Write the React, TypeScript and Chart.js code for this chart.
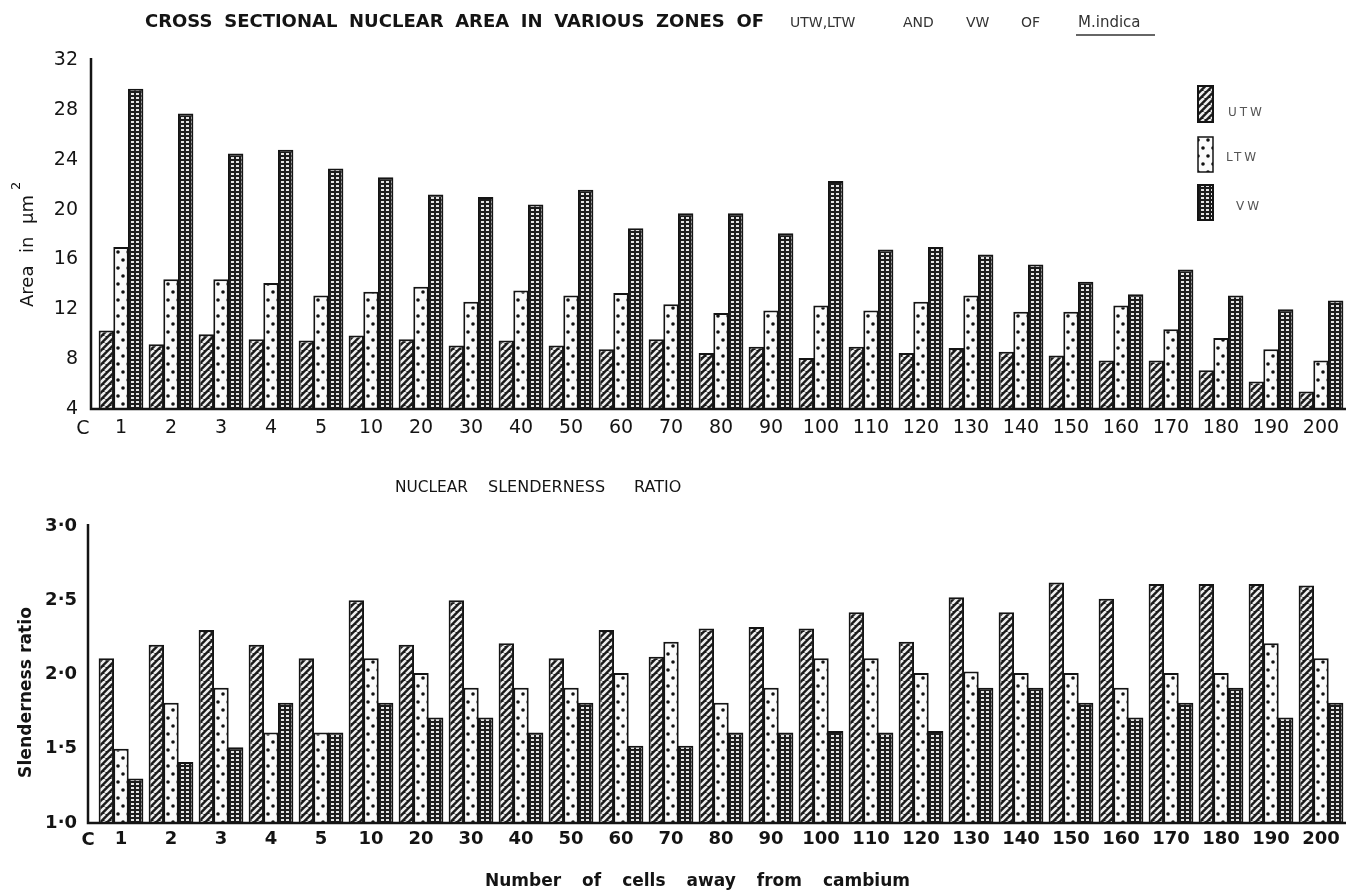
import React, { useEffect, useRef } from "react";
import { Chart, registerables } from "chart.js";
Chart.register(...registerables);

const categories = ["1", "2", "3", "4", "5", "10", "20", "30", "40", "50", "60", "70", "80", "90", "100", "110", "120", "130", "140", "150", "160", "170", "180", "190", "200"];
const seriesNames = ["UTW", "LTW", "VW"];
const areaUTW = [10.3, 9.2, 10.0, 9.6, 9.5, 9.9, 9.6, 9.1, 9.5, 9.1, 8.8, 9.6, 8.5, 9.0, 8.1, 9.0, 8.5, 8.9, 8.6, 8.3, 7.9, 7.9, 7.1, 6.2, 5.4];
const areaLTW = [17.0, 14.4, 14.4, 14.1, 13.1, 13.4, 13.8, 12.6, 13.5, 13.1, 13.3, 12.4, 11.7, 11.9, 12.3, 11.9, 12.6, 13.1, 11.8, 11.8, 12.3, 10.4, 9.7, 8.8, 7.9];
const areaVW = [29.7, 27.7, 24.5, 24.8, 23.3, 22.6, 21.2, 21.0, 20.4, 21.6, 18.5, 19.7, 19.7, 18.1, 22.3, 16.8, 17.0, 16.4, 15.6, 14.2, 13.2, 15.2, 13.1, 12.0, 12.7];
const ratioUTW = [2.11, 2.2, 2.3, 2.2, 2.11, 2.5, 2.2, 2.5, 2.21, 2.11, 2.3, 2.12, 2.31, 2.32, 2.31, 2.42, 2.22, 2.52, 2.42, 2.62, 2.51, 2.61, 2.61, 2.61, 2.6];
const ratioLTW = [1.5, 1.81, 1.91, 1.61, 1.61, 2.11, 2.01, 1.91, 1.91, 1.91, 2.01, 2.22, 1.81, 1.91, 2.11, 2.11, 2.01, 2.02, 2.01, 2.01, 1.91, 2.01, 2.01, 2.21, 2.11];
const ratioVW = [1.3, 1.41, 1.51, 1.81, 1.61, 1.81, 1.71, 1.71, 1.61, 1.81, 1.52, 1.52, 1.61, 1.61, 1.62, 1.61, 1.62, 1.91, 1.91, 1.81, 1.71, 1.81, 1.91, 1.71, 1.81];

const FONT = "'DejaVu Sans', 'Noto Sans', sans-serif";
const INK = "#141414";

function makePattern(kind: string): any {
  const c = document.createElement("canvas");
  const g = c.getContext("2d")!;
  if (kind === "hatch") {
    const s = 7;
    c.width = s; c.height = s;
    g.fillStyle = "#1a1a1a"; g.fillRect(0, 0, s, s);
    g.strokeStyle = "#ececec"; g.lineWidth = 2.6;
    g.beginPath();
    for (let k = -s; k <= s; k += s) { g.moveTo(k, s); g.lineTo(k + s, 0); }
    g.stroke();
  } else if (kind === "dots") {
    c.width = 10; c.height = 16;
    g.fillStyle = "#fbfbfb"; g.fillRect(0, 0, 10, 16);
    g.fillStyle = "#111";
    g.beginPath(); g.arc(3, 4, 1.8, 0, Math.PI * 2); g.fill();
    g.beginPath(); g.arc(8, 12, 1.8, 0, Math.PI * 2); g.fill();
  } else {
    c.width = 5; c.height = 4;
    g.fillStyle = "#1c1c1c"; g.fillRect(0, 0, 5, 4);
    g.fillStyle = "#e4e4e4"; g.fillRect(1, 1, 3, 2);
  }
  return g.createPattern(c, "repeat");
}

function spread(ctx: CanvasRenderingContext2D, text: string, x0: number, x1: number, y: number) {
  const words = text.split(" ");
  const widths = words.map((w) => ctx.measureText(w).width);
  const total = widths.reduce((a, b) => a + b, 0);
  const avail = x1 - x0;
  ctx.textAlign = "left";
  if (words.length === 1 || total >= avail) {
    ctx.fillText(text, x0, y, avail);
    return;
  }
  const gap = (avail - total) / (words.length - 1);
  let x = x0;
  words.forEach((w, i) => { ctx.fillText(w, x, y); x += widths[i] + gap; });
}

export default function App() {
  const topRef = useRef<HTMLCanvasElement>(null);
  const botRef = useRef<HTMLCanvasElement>(null);

  useEffect(() => {
    const pats = [makePattern("hatch"), makePattern("dots"), makePattern("grid")];

    const mkDatasets = (arrs: number[][]) =>
      arrs.map((d, i) => ({
        label: seriesNames[i],
        data: d,
        backgroundColor: pats[i],
        borderColor: INK,
        borderWidth: 2,
        borderSkipped: "bottom" as const,
        categoryPercentage: 0.88,
        barPercentage: 1.05,
      }));

    const topOverlay = {
      id: "topOverlay",
      afterDraw(chart: any) {
        const ctx: CanvasRenderingContext2D = chart.ctx;
        const { left, right, bottom } = chart.chartArea;
        const axX = left - 5;
        ctx.save();
        ctx.strokeStyle = INK; ctx.lineWidth = 2.5;
        ctx.beginPath(); ctx.moveTo(axX, 58); ctx.lineTo(axX, bottom); ctx.lineTo(right, bottom); ctx.stroke();
        ctx.fillStyle = INK; ctx.textBaseline = "middle";
        // title
        ctx.font = `600 18px ${FONT}`;
        spread(ctx, "CROSS SECTIONAL NUCLEAR AREA IN VARIOUS ZONES OF", 145, 764, 22);
        ctx.fillStyle = "#333";
        ctx.font = `14px ${FONT}`;
        const parts: [string, number, number][] = [["UTW,LTW", 790, 886], ["AND", 903, 945], ["VW", 966, 990], ["OF", 1021, 1048]];
        parts.forEach((p) => spread(ctx, p[0], p[1], p[2], 23));
        ctx.font = `15px ${FONT}`;
        ctx.textAlign = "left";
        ctx.fillText("M.indica", 1078, 23, 77);
        ctx.strokeStyle = "#333"; ctx.lineWidth = 1.5;
        ctx.beginPath(); ctx.moveTo(1076, 35); ctx.lineTo(1155, 35); ctx.stroke();
        // y title
        ctx.fillStyle = INK;
        ctx.save();
        ctx.translate(28, 307); ctx.rotate(-Math.PI / 2);
        ctx.font = `18px ${FONT}`;
        spread(ctx, "Area in μm", 0, 112, 0);
        ctx.font = `13px ${FONT}`;
        ctx.fillText("2", 117, -11);
        ctx.restore();
        // origin C
        ctx.font = `19px ${FONT}`; ctx.textAlign = "center";
        ctx.fillText("C", 83, 429);
        // legend
        const lg = [[86, 122, 113, "UTW", 1228], [137, 172, 158, "LTW", 1226], [185, 220, 207, "VW", 1236]];
        lg.forEach((r: any, i) => {
          ctx.fillStyle = pats[i];
          ctx.fillRect(1198, r[0], 15, r[1] - r[0]);
          ctx.strokeStyle = INK; ctx.lineWidth = i === 1 ? 1.5 : 2;
          ctx.strokeRect(1198, r[0], 15, r[1] - r[0]);
          ctx.fillStyle = "#555";
          ctx.font = `12px ${FONT}`;
          ctx.textAlign = "left";
          (ctx as any).letterSpacing = "3px";
          ctx.fillText(r[3], r[4], r[2]);
          (ctx as any).letterSpacing = "0px";
        });
        ctx.restore();
      },
    };

    const botOverlay = {
      id: "botOverlay",
      afterDraw(chart: any) {
        const ctx: CanvasRenderingContext2D = chart.ctx;
        const { right, bottom, top } = chart.chartArea;
        const axX = 88;
        ctx.save();
        ctx.strokeStyle = INK; ctx.lineWidth = 2.5;
        ctx.beginPath(); ctx.moveTo(axX, top - 2); ctx.lineTo(axX, bottom); ctx.lineTo(right, bottom); ctx.stroke();
        ctx.fillStyle = INK; ctx.textBaseline = "middle";
        ctx.font = `16px ${FONT}`;
        const tparts: [string, number, number][] = [["NUCLEAR", 395, 468], ["SLENDERNESS", 488, 612], ["RATIO", 634, 690]];
        tparts.forEach((p) => spread(ctx, p[0], p[1], p[2], 38));
        ctx.save();
        ctx.translate(26, 328); ctx.rotate(-Math.PI / 2);
        ctx.font = `bold 18px ${FONT}`;
        spread(ctx, "Slenderness ratio", 0, 171, 0);
        ctx.restore();
        ctx.font = `bold 18px ${FONT}`; ctx.textAlign = "center";
        ctx.fillText("C", 88, 390);
        ctx.font = `bold 17px ${FONT}`;
        spread(ctx, "Number of cells away from cambium", 485, 910, 432);
        ctx.restore();
      },
    };

    const top = new Chart(topRef.current!, {
      type: "bar",
      data: { labels: categories, datasets: mkDatasets([areaUTW, areaLTW, areaVW]) as any },
      options: {
        responsive: false,
        animation: false,
        layout: { padding: { top: 60, right: 3, left: 0, bottom: 0 } },
        plugins: { legend: { display: false }, tooltip: { enabled: false }, title: { display: false } },
        scales: {
          x: {
            offset: true,
            grid: { display: false, drawTicks: false },
            border: { display: false },
            ticks: { color: INK, font: { family: FONT, size: 19 }, padding: 8, maxRotation: 0, autoSkip: false },
            afterFit: (s: any) => { s.height = 41; },
          },
          y: {
            min: 4, max: 32,
            grid: { display: false, drawTicks: false },
            border: { display: false },
            ticks: { stepSize: 4, color: INK, font: { family: FONT, size: 19 }, padding: 18 },
            afterFit: (s: any) => { s.width = 96; },
          },
        },
      } as any,
      plugins: [topOverlay],
    });

    const bot = new Chart(botRef.current!, {
      type: "bar",
      data: { labels: categories, datasets: mkDatasets([ratioUTW, ratioLTW, ratioVW]) as any },
      options: {
        responsive: false,
        animation: false,
        layout: { padding: { top: 76, right: 3, left: 0, bottom: 0 } },
        plugins: { legend: { display: false }, tooltip: { enabled: false }, title: { display: false } },
        scales: {
          x: {
            offset: true,
            grid: { display: false, drawTicks: false },
            border: { display: false },
            ticks: { color: INK, font: { family: FONT, size: 18, weight: "bold" }, padding: 6, maxRotation: 0, autoSkip: false },
            afterFit: (s: any) => { s.height = 72; },
          },
          y: {
            min: 1, max: 3,
            grid: { display: false, drawTicks: false },
            border: { display: false },
            ticks: {
              stepSize: 0.5, color: INK, font: { family: FONT, size: 18, weight: "bold" }, padding: 19,
              callback: (v: any) => Number(v).toFixed(1).replace(".", "·"),
            },
            afterFit: (s: any) => { s.width = 96; },
          },
        },
      } as any,
      plugins: [botOverlay],
    });

    return () => { top.destroy(); bot.destroy(); };
  }, []);

  return (
    <div style={{ position: "absolute", left: 0, top: 0, width: 1349, height: 895, background: "#fff" }}>
      <canvas ref={topRef} width={1349} height={450} style={{ position: "absolute", left: 0, top: 0, width: 1349, height: 450, display: "block" }} />
      <canvas ref={botRef} width={1349} height={445} style={{ position: "absolute", left: 0, top: 450, width: 1349, height: 445, display: "block" }} />
    </div>
  );
}
